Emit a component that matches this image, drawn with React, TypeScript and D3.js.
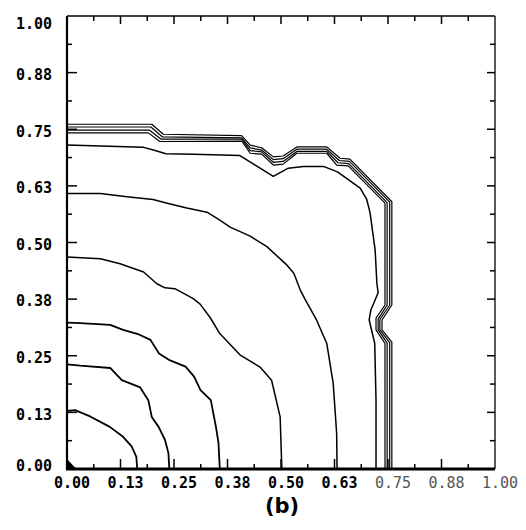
import React from 'react';
import * as d3 from 'd3';

const WIDTH = 526;
const HEIGHT = 530;

// tick values and their printed labels
const majorTicks = [0, 0.125, 0.25, 0.375, 0.5, 0.625, 0.75, 0.875, 1];
const minorTicks = [0.0625, 0.1875, 0.3125, 0.4375, 0.5625, 0.6875, 0.8125, 0.9375];
const tickLabels = ['0.00', '0.13', '0.25', '0.38', '0.50', '0.63', '0.75', '0.88', '1.00'];

// contour lines as [x, y]
const level1 = [[0, 0.128], [0.019, 0.13], [0.054, 0.116], [0.1, 0.093], [0.131, 0.071], [0.151, 0.05], [0.162, 0.027], [0.164, 0]];
const level2 = [[0, 0.231], [0.031, 0.228], [0.101, 0.223], [0.128, 0.196], [0.171, 0.18], [0.19, 0.152], [0.198, 0.115], [0.214, 0.093], [0.229, 0.064], [0.237, 0.035], [0.239, 0]];
const level3 = [[0, 0.323], [0.031, 0.322], [0.101, 0.318], [0.131, 0.307], [0.168, 0.297], [0.195, 0.285], [0.215, 0.255], [0.238, 0.241], [0.277, 0.226], [0.297, 0.204], [0.312, 0.174], [0.336, 0.152], [0.348, 0.093], [0.354, 0.057], [0.357, 0]];
const level4 = [[0, 0.468], [0.078, 0.464], [0.124, 0.453], [0.179, 0.435], [0.21, 0.409], [0.229, 0.4], [0.252, 0.398], [0.295, 0.376], [0.311, 0.364], [0.334, 0.335], [0.357, 0.299], [0.404, 0.252], [0.451, 0.225], [0.478, 0.196], [0.498, 0.115], [0.502, 0]];
const level5 = [[0, 0.608], [0.078, 0.608], [0.14, 0.601], [0.201, 0.595], [0.241, 0.585], [0.28, 0.576], [0.327, 0.567], [0.358, 0.549], [0.381, 0.534], [0.428, 0.514], [0.467, 0.491], [0.514, 0.45], [0.53, 0.432], [0.545, 0.395], [0.556, 0.375], [0.583, 0.329], [0.607, 0.277], [0.622, 0.189], [0.63, 0.079], [0.631, 0]];
const level6 = [[0, 0.715], [0.078, 0.713], [0.179, 0.71], [0.202, 0.704], [0.231, 0.696], [0.296, 0.695], [0.404, 0.692], [0.482, 0.646], [0.517, 0.664], [0.552, 0.668], [0.599, 0.668], [0.632, 0.656], [0.685, 0.62], [0.7, 0.596], [0.708, 0.566], [0.72, 0.483], [0.724, 0.41], [0.727, 0.389], [0.71, 0.351], [0.706, 0.329], [0.719, 0.277], [0.722, 0.152], [0.722, 0]];
const wallA = [[0, 0.761], [0.198, 0.761], [0.225, 0.739], [0.408, 0.736], [0.428, 0.715], [0.455, 0.709], [0.482, 0.689], [0.505, 0.691], [0.537, 0.711], [0.607, 0.711], [0.638, 0.686], [0.661, 0.684], [0.759, 0.59], [0.759, 0.362], [0.736, 0.329], [0.736, 0.307], [0.759, 0.28], [0.759, 0]];
const wallB = [[0, 0.755], [0.196, 0.755], [0.223, 0.733], [0.408, 0.731], [0.428, 0.709], [0.455, 0.704], [0.482, 0.683], [0.505, 0.685], [0.537, 0.706], [0.607, 0.706], [0.636, 0.681], [0.66, 0.679], [0.754, 0.589], [0.754, 0.362], [0.731, 0.33], [0.731, 0.307], [0.754, 0.279], [0.754, 0]];
const wallC = [[0, 0.748], [0.193, 0.748], [0.22, 0.728], [0.408, 0.728], [0.428, 0.703], [0.455, 0.7], [0.482, 0.677], [0.505, 0.679], [0.537, 0.701], [0.607, 0.701], [0.633, 0.676], [0.658, 0.674], [0.748, 0.588], [0.748, 0.362], [0.727, 0.331], [0.727, 0.307], [0.748, 0.278], [0.748, 0]];
const wallD = [[0, 0.742], [0.19, 0.742], [0.217, 0.723], [0.408, 0.724], [0.428, 0.697], [0.455, 0.695], [0.482, 0.671], [0.505, 0.673], [0.537, 0.697], [0.607, 0.697], [0.63, 0.671], [0.657, 0.669], [0.743, 0.587], [0.743, 0.362], [0.722, 0.333], [0.722, 0.307], [0.743, 0.277], [0.743, 0]];
const originPatch = [[0, 0], [0.022, 0], [0, 0.022]];

const innerLevels = [level1, level2, level3, level4, level5, level6];
const wallLevels = [wallA, wallB, wallC, wallD];

export default function App() {
  const x = d3.scaleLinear().domain([0, 1]).range([67, 495]);
  const y = d3.scaleLinear().domain([0, 1]).range([469, 16]);
  const line = d3
    .line<number[]>()
    .x(d => x(d[0]))
    .y(d => y(d[1]));

  const font = '"DejaVu Sans Mono", monospace';

  return (
    <svg
      width={WIDTH}
      height={HEIGHT}
      style={{ position: 'absolute', left: 0, top: 0, background: '#fff' }}
    >
      {/* contours */}
      <g fill="none" stroke="#000" strokeLinejoin="round">
        {innerLevels.map((d, i) => (
          <path key={'l' + i} d={line(d) || ''} strokeWidth={i < 3 ? 1.8 : 1.5} />
        ))}
        {wallLevels.map((d, i) => (
          <path key={'w' + i} d={line(d) || ''} strokeWidth={1.2} />
        ))}
      </g>
      <path d={(line(originPatch) || '') + 'Z'} fill="#000" />

      {/* frame */}
      <g stroke="#000" fill="none">
        <line x1={x(0)} x2={x(1)} y1={y(1)} y2={y(1)} strokeWidth={1.5} />
        <line x1={x(1)} x2={x(1)} y1={y(0)} y2={y(1)} strokeWidth={1.3} />
        <line x1={x(0)} x2={x(0)} y1={y(0) + 1} y2={y(1)} strokeWidth={2.2} />
        <line x1={x(0) - 1} x2={x(1)} y1={y(0)} y2={y(0)} strokeWidth={2.8} />
      </g>

      {/* ticks */}
      <g stroke="#000" strokeWidth={1.5}>
        {majorTicks.slice(1, -1).map(v => (
          <g key={'M' + v}>
            <line x1={x(v)} x2={x(v)} y1={y(0)} y2={y(0) - 10} />
            <line x1={x(v)} x2={x(v)} y1={y(1)} y2={y(1) + 8} />
            <line x1={x(0)} x2={x(0) + 10} y1={y(v)} y2={y(v)} />
            <line x1={x(1)} x2={x(1) - 8} y1={y(v)} y2={y(v)} />
          </g>
        ))}
        {minorTicks.map(v => (
          <g key={'m' + v}>
            <line x1={x(v)} x2={x(v)} y1={y(0)} y2={y(0) - 5} />
            <line x1={x(v)} x2={x(v)} y1={y(1)} y2={y(1) + 5} />
            <line x1={x(0)} x2={x(0) + 5} y1={y(v)} y2={y(v)} />
            <line x1={x(1)} x2={x(1) - 5} y1={y(v)} y2={y(v)} />
          </g>
        ))}
      </g>

      {/* tick labels */}
      <g fontFamily={font} fontSize={15} fontWeight="bold" fill="#000">
        {majorTicks.map((v, i) => (
          <text
            key={'y' + v}
            x={52}
            y={Math.min(Math.max(y(v) + 2, 24), 466)}
            dy="0.35em"
            textAnchor="end"
          >
            {tickLabels[i]}
          </text>
        ))}
        {majorTicks.map((v, i) => (
          <text
            key={'x' + v}
            x={x(v) + 5}
            y={483}
            dy="0.35em"
            textAnchor="middle"
            fill={v >= 0.75 ? '#555' : '#000'}
            fontWeight={v >= 0.75 ? 'normal' : 'bold'}
          >
            {tickLabels[i]}
          </text>
        ))}
      </g>

      <text
        x={(x(0) + x(1)) / 2 + 1}
        y={513}
        textAnchor="middle"
        fontFamily='"DejaVu Sans", sans-serif'
        fontWeight="bold"
        fontSize={21}
      >
        (b)
      </text>
    </svg>
  );
}
